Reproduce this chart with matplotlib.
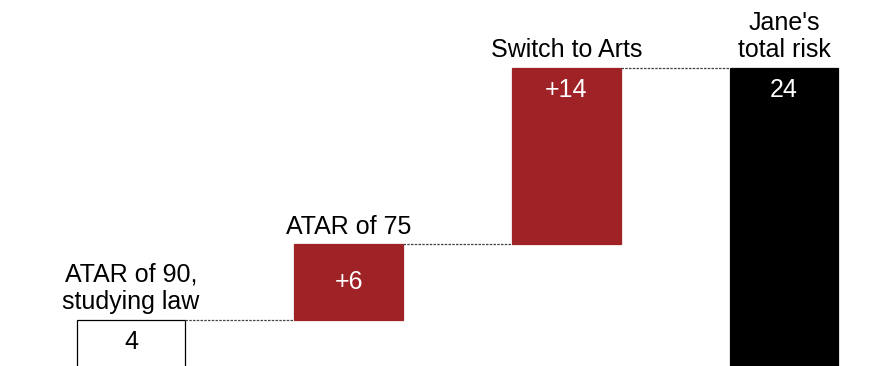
import matplotlib.pyplot as plt

plt.rcParams['font.family'] = ['Liberation Sans', 'DejaVu Sans']

# waterfall steps: starting value, two increases, final total
labels = ["ATAR of 90,\nstudying law", "ATAR of 75", "Switch to Arts", "Jane's\ntotal risk"]
changes = [4, 6, 14]
total = sum(changes)
value_text = ["4", "+6", "+14", str(total)]

red = "#9e2226"

fig = plt.figure(figsize=(8.92, 3.66), dpi=100)
ax = fig.add_axes([0, 0, 1, 1])

bottoms = [0, changes[0], changes[0] + changes[1], 0]
heights = [changes[0], changes[1], changes[2], total]
faces = ["white", red, red, "black"]
edges = ["black", red, red, "black"]
width = 0.5
x = range(len(labels))

ax.bar(x, heights, bottom=bottoms, width=width, color=faces,
       edgecolor=edges, linewidth=0.9)

# dashed connectors between bar tops
tops = [b + h for b, h in zip(bottoms, heights)]
for i in range(len(labels) - 1):
    ax.plot([i + width / 2, i + 1 - width / 2], [tops[i], tops[i]],
            color="#444444", linestyle=(0, (2, 1)), linewidth=0.9)

for i, (lab, val) in enumerate(zip(labels, value_text)):
    ax.annotate(lab, (i, tops[i]), xytext=(0, 4), textcoords="offset points",
                ha="center", va="bottom", fontsize=18, color="black")
    txt_color = "black" if i == 0 else "white"
    if 4 < heights[i] < 10:
        # short floating bar: value sits in the middle
        ax.text(i, bottoms[i] + heights[i] / 2, val, ha="center", va="center",
                fontsize=18, color=txt_color)
    else:
        ax.annotate(val, (i, tops[i]), xytext=(0, -16), textcoords="offset points",
                    ha="center", va="center", fontsize=18, color=txt_color)

ax.set_xlim(-0.602, 3.496)
ax.set_ylim(0.35, 29.4)
ax.axis("off")

fig.savefig("out.png", dpi=100)
